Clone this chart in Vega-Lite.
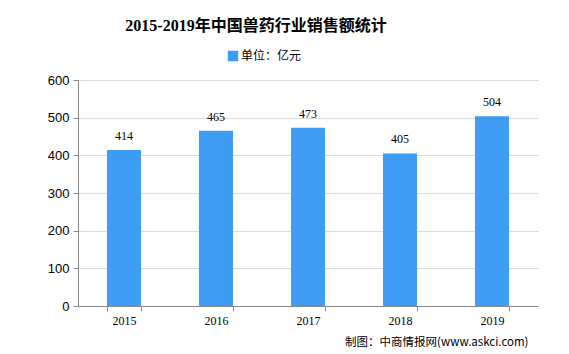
{
  "$schema": "https://vega.github.io/schema/vega-lite/v6.json",
  "width": 460,
  "height": 226,
  "autosize": {"type": "none"},
  "padding": {"left": 78, "top": 80, "right": 31, "bottom": 48},
  "background": "white",
  "title": {
    "text": "2015-2019年中国兽药行业销售额统计",
    "anchor": "middle",
    "dx": -52,
    "offset": 16,
    "font": "Liberation Serif, Noto Sans CJK SC",
    "fontSize": 16,
    "fontWeight": "bold",
    "color": "#000000"
  },
  "data": {
    "values": [
      {"year": "2015", "value": 414, "series": "单位：亿元"},
      {"year": "2016", "value": 465, "series": "单位：亿元"},
      {"year": "2017", "value": 473, "series": "单位：亿元"},
      {"year": "2018", "value": 405, "series": "单位：亿元"},
      {"year": "2019", "value": 504, "series": "单位：亿元"}
    ]
  },
  "config": {
    "view": {"stroke": null},
    "font": "Liberation Serif, Noto Sans CJK SC"
  },
  "encoding": {
    "x": {
      "field": "year",
      "type": "nominal",
      "scale": {"paddingInner": 0.63, "paddingOuter": 0.315},
      "axis": {
        "labelAngle": 0,
        "labelFont": "Liberation Serif",
        "labelFontSize": 12,
        "labelColor": "#000000",
        "labelPadding": 4,
        "domainColor": "#888888",
        "tickColor": "#888888",
        "tickBand": "extent",
        "tickSize": 5,
        "title": "制图：中商情报网(www.askci.com)",
        "titleFont": "Noto Sans CJK SC, Liberation Sans",
        "titleFontSize": 11.5,
        "titleFontWeight": "normal",
        "titleColor": "#000000",
        "titleAnchor": "end",
        "titleAlign": "right",
        "titleBaseline": "alphabetic",
        "titleX": 450,
        "titleY": 39
      }
    },
    "y": {
      "field": "value",
      "type": "quantitative",
      "scale": {"domain": [0, 600]},
      "axis": {
        "values": [0, 100, 200, 300, 400, 500, 600],
        "title": null,
        "labelFont": "Liberation Sans",
        "labelFontSize": 13,
        "labelColor": "#000000",
        "labelPadding": 4,
        "domain": true,
        "domainColor": "#888888",
        "tickColor": "#888888",
        "tickSize": 5,
        "gridColor": "#d9d9d9",
        "gridWidth": 1
      }
    }
  },
  "layer": [
    {
      "mark": {"type": "bar", "color": "#3e9cf2"},
      "encoding": {
        "color": {
          "field": "series",
          "type": "nominal",
          "scale": {"range": ["#3e9cf2"]},
          "legend": {
            "title": null,
            "orient": "none",
            "legendX": 149,
            "legendY": -30,
            "symbolType": "square",
            "symbolSize": 110,
            "symbolStrokeWidth": 0,
            "labelFont": "Noto Sans CJK SC",
            "labelFontSize": 12,
            "labelColor": "#000000",
            "labelOffset": 2
          }
        }
      }
    },
    {
      "mark": {
        "type": "text",
        "dy": -7,
        "baseline": "bottom",
        "font": "Liberation Serif",
        "fontSize": 12,
        "color": "#000000"
      },
      "encoding": {"text": {"field": "value", "type": "quantitative"}}
    }
  ]
}
